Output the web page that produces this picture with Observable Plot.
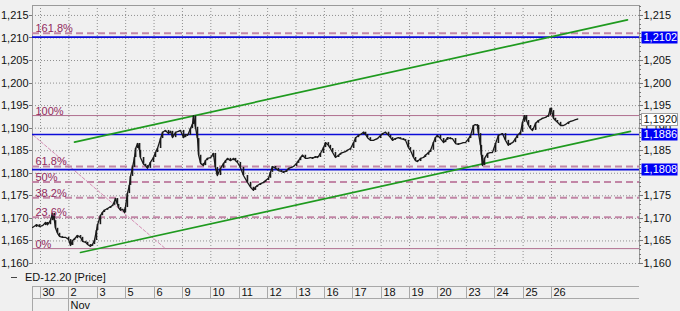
<!DOCTYPE html>
<html><head><meta charset="utf-8">
<script src="https://cdn.jsdelivr.net/npm/d3@7"></script>
<script src="https://cdn.jsdelivr.net/npm/@observablehq/plot@0.6"></script>
<style>
html,body{margin:0;padding:0;background:#f0f0f0;}
#chart{width:680px;height:311px;overflow:hidden;}
svg{display:block;}
</style></head><body><div id="chart"></div>
<script>
// ---- data ----
const dayLabels = ["30","2","3","5","6","9","10","11","12","13","16","17","18","19","20","23","24","25","26"];
const monthLabel = "Nov";
const monthStartIndex = 1;
const yTicks = [1.160,1.165,1.170,1.175,1.180,1.185,1.190,1.195,1.200,1.205,1.210,1.215];
const legendText = "ED-12.20 [Price]";
// time in trading days (0 = start of 30 Oct)
const times = [-0.28,-0.14,-0.04,0.07,0.18,0.25,0.35,0.42,0.49,0.53,
0.60,0.67,0.77,0.88,0.99,1.06,1.13,1.20,1.30,1.41,
1.48,1.59,1.66,1.76,1.83,1.90,1.97,2.01,2.11,2.18,
2.25,2.36,2.47,2.54,2.61,2.64,2.71,2.75,2.82,2.89,
2.96,2.99,3.06,3.13,3.17,3.24,3.31,3.35,3.42,3.49,
3.52,3.63,3.70,3.77,3.87,3.98,4.05,4.12,4.23,4.30,
4.40,4.51,4.58,4.65,4.76,4.86,4.93,5.04,5.11,5.18,
5.28,5.35,5.39,5.46,5.53,5.57,5.64,5.74,5.81,5.88,
5.99,6.09,6.16,6.23,6.34,6.45,6.52,6.59,6.69,6.80,
6.87,6.94,7.04,7.15,7.29,7.40,7.50,7.57,7.64,7.75,
7.86,7.93,8.03,8.10,8.17,8.28,8.38,8.49,8.56,8.67,
8.74,8.84,8.91,9.02,9.09,9.16,9.23,9.33,9.40,9.51,
9.58,9.69,9.76,9.86,9.97,10.04,10.14,10.21,10.29,10.39,
10.50,10.57,10.64,10.74,10.81,10.92,11.03,11.10,11.20,11.27,
11.38,11.45,11.52,11.62,11.73,11.80,11.87,11.98,12.05,12.15,
12.26,12.33,12.40,12.50,12.61,12.68,12.79,12.86,12.96,13.03,
13.14,13.21,13.28,13.39,13.49,13.56,13.67,13.74,13.84,13.91,
13.98,14.09,14.20,14.27,14.34,14.44,14.51,14.62,14.72,14.79,
14.90,14.97,15.08,15.15,15.25,15.32,15.39,15.43,15.50,15.53,
15.57,15.64,15.75,15.85,15.92,16.03,16.13,16.20,16.27,16.38,
16.48,16.55,16.63,16.73,16.80,16.91,16.98,17.05,17.12,17.19,
17.26,17.33,17.44,17.54,17.61,17.68,17.79,17.89,17.96,18.00,
18.07,18.14,18.21,18.32,18.42,18.49,18.60,18.67,18.77,18.85,
18.92];
const prices = [1.1680,1.1686,1.1682,1.1684,1.1691,1.1686,1.1695,1.1711,1.1695,1.1678,
1.1667,1.1660,1.1658,1.1658,1.1653,1.1640,1.1651,1.1655,1.1662,1.1658,
1.1649,1.1647,1.1642,1.1638,1.1642,1.1651,1.1673,1.1686,1.1706,1.1713,
1.1718,1.1722,1.1726,1.1729,1.1738,1.1744,1.1731,1.1724,1.1718,1.1720,
1.1713,1.1724,1.1755,1.1773,1.1793,1.1813,1.1835,1.1855,1.1866,1.1851,
1.1835,1.1820,1.1817,1.1811,1.1824,1.1835,1.1846,1.1855,1.1877,1.1891,
1.1895,1.1888,1.1893,1.1879,1.1891,1.1893,1.1895,1.1879,1.1886,1.1884,
1.1899,1.1908,1.1927,1.1902,1.1877,1.1840,1.1822,1.1817,1.1828,1.1833,
1.1835,1.1844,1.1813,1.1795,1.1811,1.1822,1.1828,1.1833,1.1828,1.1833,
1.1828,1.1824,1.1813,1.1795,1.1780,1.1769,1.1762,1.1769,1.1773,1.1777,
1.1780,1.1784,1.1789,1.1802,1.1815,1.1811,1.1806,1.1804,1.1802,1.1806,
1.1811,1.1813,1.1815,1.1822,1.1828,1.1835,1.1840,1.1833,1.1833,1.1835,
1.1833,1.1837,1.1835,1.1844,1.1857,1.1868,1.1862,1.1855,1.1846,1.1835,
1.1840,1.1844,1.1846,1.1848,1.1851,1.1855,1.1868,1.1879,1.1884,1.1886,
1.1891,1.1886,1.1879,1.1873,1.1873,1.1875,1.1877,1.1884,1.1888,1.1891,
1.1884,1.1879,1.1873,1.1877,1.1879,1.1877,1.1875,1.1873,1.1857,1.1851,
1.1835,1.1828,1.1826,1.1833,1.1835,1.1840,1.1846,1.1851,1.1868,1.1879,
1.1884,1.1877,1.1868,1.1873,1.1879,1.1877,1.1877,1.1866,1.1864,1.1866,
1.1868,1.1868,1.1877,1.1884,1.1906,1.1908,1.1906,1.1888,1.1862,1.1840,
1.1817,1.1833,1.1844,1.1846,1.1846,1.1866,1.1884,1.1886,1.1888,1.1873,
1.1862,1.1866,1.1868,1.1877,1.1884,1.1891,1.1913,1.1928,1.1917,1.1906,
1.1899,1.1895,1.1911,1.1917,1.1919,1.1922,1.1924,1.1928,1.1944,1.1939,
1.1922,1.1917,1.1913,1.1906,1.1906,1.1908,1.1913,1.1915,1.1917,1.1919,
1.1920];
const fibLow = 1.1633, fibHigh = 1.1928;
const fibRatios = [0, 0.236, 0.382, 0.5, 0.618, 1, 1.618];
const fibNames = ["0%","23.6%","38.2%","50%","61.8%","100%","161.8%"];
const fibDashed = [false, true, true, true, true, false, true];
const blueLevels = [1.2102, 1.1886, 1.1808];
const lastPrice = 1.1920;
const upperT = [1.198, 20.676], upperV = [1.1869, 1.2140];
const lowerT = [1.409, 20.78], lowerV = [1.16244, 1.18928];
const diagT = [-1.06, 4.40], diagV = [1.1928, 1.1633];
const xDomain = [-0.282, 21.1];
const yDomain = [1.160, 1.2172];

// ---- build ----
const fmt3 = v => v.toFixed(3).replace(".", ",");
const fmt4 = v => v.toFixed(4).replace(".", ",");
const series = times.map((t, i) => ({t, p: prices[i], prev: i ? prices[i - 1] : prices[i]}));
const fib = fibRatios.map((r, i) => ({v: fibLow + r * (fibHigh - fibLow), name: fibNames[i], dashed: fibDashed[i]}));
const pairs = (T, V) => T.map((t, i) => ({t, v: V[i]}));
// right-axis labels that sit fully under a price box are hidden in the original
const rightTicks = yTicks.filter(v => !blueLevels.some(b => Math.abs(b - v) < 0.0012));
const FONT = "'Liberation Sans', Arial, sans-serif";
const GRID = "#8f8f8f";

const chart = Plot.plot({
  width: 680, height: 311,
  marginTop: 5, marginBottom: 48, marginLeft: 32, marginRight: 41,
  style: {background: "#f0f0f0", fontFamily: FONT, fontSize: "11px", color: "#111"},
  x: {domain: xDomain, axis: null},
  y: {domain: yDomain, axis: null},
  marks: [
    Plot.ruleY(yTicks, {stroke: GRID, strokeDasharray: "1,2"}),
    Plot.ruleX(d3.range(dayLabels.length), {stroke: GRID, strokeDasharray: "1,2"}),
    Plot.ruleX([xDomain[0], xDomain[1]], {stroke: "#9a9a9a"}),
    Plot.ruleY([yDomain[1]], {stroke: "#9a9a9a"}),
    Plot.ruleY(fib.filter(d => !d.dashed), {y: "v", stroke: "#b0708f", strokeWidth: 1}),
    Plot.ruleY(fib.filter(d => d.dashed), {y: "v", stroke: "#c286a6", strokeWidth: 2, strokeDasharray: "7,4"}),
    Plot.line(pairs(diagT, diagV), {x: "t", y: "v", stroke: "#d48cb3", strokeWidth: 1, strokeDasharray: "3,2", clip: true}),
    Plot.ruleY(blueLevels, {stroke: "#0c0cd8", strokeWidth: 1.7}),
    Plot.line(pairs(upperT, upperV), {x: "t", y: "v", stroke: "#1f9a1f", strokeWidth: 1.7}),
    Plot.line(pairs(lowerT, lowerV), {x: "t", y: "v", stroke: "#1f9a1f", strokeWidth: 1.7}),
    Plot.line(series, {x: "t", y: "p", stroke: "#1a1a1a", strokeWidth: 1.3, clip: true}),
    Plot.ruleX(series, {x: "t", y1: "prev", y2: "p", stroke: "#1a1a1a", strokeWidth: 1.6, clip: true}),
    Plot.text(fib, {y: "v", text: "name", frameAnchor: "left", dx: 3, textAnchor: "start", lineAnchor: "bottom", dy: -1, fill: "#922a5e", fontSize: 11}),
    Plot.text(rightTicks, {y: d => d, text: fmt3, frameAnchor: "right", dx: 4, textAnchor: "start", fill: "#111", fontSize: 11}),
    Plot.text(yTicks, {y: d => d, text: fmt3, frameAnchor: "left", dx: -4, textAnchor: "end", fill: "#111", fontSize: 11})
  ]
});
document.getElementById("chart").appendChild(chart);

// ---- decorations drawn with the plot's own scales ----
const X = chart.scale("x").apply, Y = chart.scale("y").apply;
const svg = d3.select(chart);
const g = svg.append("g").attr("font-family", FONT).attr("font-size", 11).attr("text-anchor", "start");
const xL = X(xDomain[0]), xR = X(xDomain[1]), yB = Y(yDomain[0]);
const snap = v => Math.round(v) + 0.5;

// axis ticks
d3.range(1160, 1218).forEach(k => {
  const v = k / 1000, y = snap(Y(v)), major = k % 5 === 0;
  g.append("line").attr("x1", xR).attr("x2", xR + (major ? 4 : 2)).attr("y1", y).attr("y2", y).attr("stroke", "#777");
  if (major) g.append("line").attr("x1", xL - 3).attr("x2", xL).attr("y1", y).attr("y2", y).attr("stroke", "#777");
});

// price boxes
function box(v, bg, fg, border) {
  const y = Y(v);
  g.append("rect").attr("x", xR + 2.5).attr("y", Math.round(y) - 5.5).attr("width", 36).attr("height", 12)
    .attr("fill", bg).attr("stroke", border || "none");
  g.append("text").attr("x", xR + 4.5).attr("y", Math.round(y) + 0.5).attr("dy", "0.35em").attr("fill", fg).text(fmt4(v));
}
box(lastPrice, "#ffffff", "#111", "#a0a0a0");
blueLevels.forEach(v => box(v, "#0000f5", "#ffffff"));

// legend
g.append("line").attr("x1", 11).attr("x2", 17).attr("y1", yB + 14.5).attr("y2", yB + 14.5).attr("stroke", "#444");
g.append("text").attr("x", 25).attr("y", yB + 14).attr("dy", "0.35em").attr("fill", "#111").text(legendText);

// date cells
const rowTop = yB + 23.5, rowBot = yB + 35.5, H = 311;
const cell = "#a8a8a8";
g.append("line").attr("x1", xL).attr("x2", xR).attr("y1", rowTop).attr("y2", rowTop).attr("stroke", cell);
g.append("line").attr("x1", xL).attr("x2", xR).attr("y1", rowBot).attr("y2", rowBot).attr("stroke", cell);
g.append("line").attr("x1", snap(xL)).attr("x2", snap(xL)).attr("y1", rowTop).attr("y2", H).attr("stroke", cell);
dayLabels.forEach((lab, i) => {
  const x = snap(X(i));
  g.append("line").attr("x1", x).attr("x2", x).attr("y1", rowTop).attr("y2", i === monthStartIndex ? H : rowBot).attr("stroke", cell);
  g.append("text").attr("x", x + 2).attr("y", rowTop + 6).attr("dy", "0.35em").attr("fill", "#111").text(lab);
});
g.append("text").attr("x", snap(X(monthStartIndex)) + 2).attr("y", rowBot + 7).attr("dy", "0.35em").attr("fill", "#111").text(monthLabel);
</script>
</body></html>
